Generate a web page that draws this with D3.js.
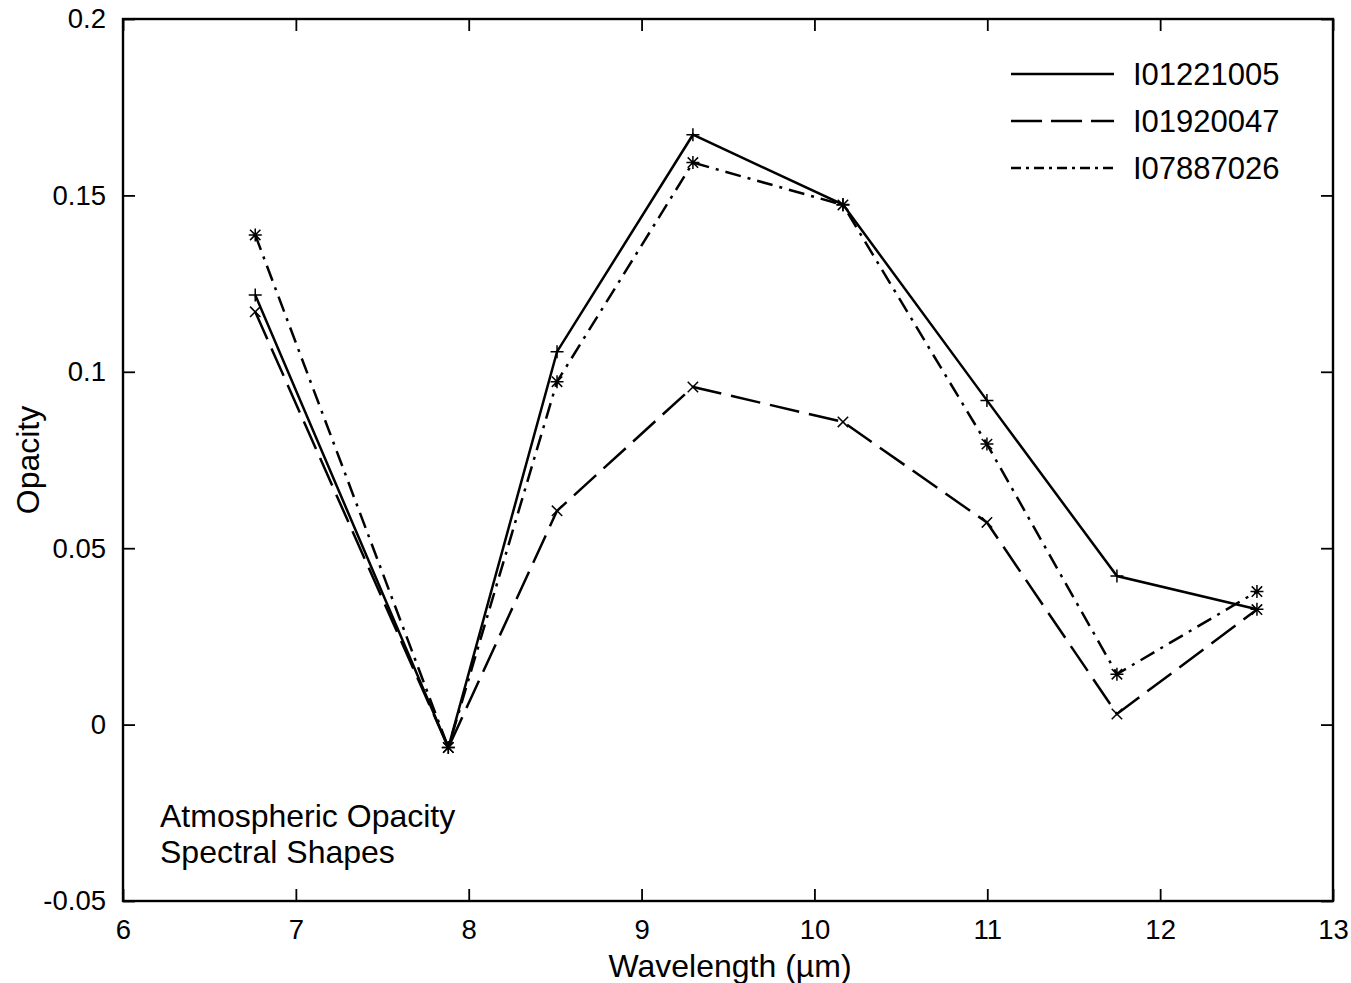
<!DOCTYPE html>
<html>
<head>
<meta charset="utf-8">
<script src="https://cdn.jsdelivr.net/npm/d3@7"></script>
<style>
  html, body { margin: 0; padding: 0; background: #fff; }
  svg text { font-family: "Liberation Sans", Arial, Helvetica, sans-serif; fill: #000; }
</style>
</head>
<body>
<svg id="chart" width="1351" height="983"></svg>
<script>
// Wavelengths of the spectral channels (µm)
const wavelengths = [6.765, 7.882, 8.511, 9.297, 10.165, 10.998, 11.750, 12.560];

// Opacity spectra for each observation
const seriesNames = ["I01221005", "I01920047", "I07887026"];
const opacityI01221005 = [0.1218, -0.0065, 0.1057, 0.1672, 0.1474, 0.0919, 0.0421, 0.0327];
const opacityI01920047 = [0.1170, -0.0065, 0.0606, 0.0957, 0.0858, 0.0573, 0.0030, 0.0326];
const opacityI07887026 = [0.1388, -0.0065, 0.0972, 0.1593, 0.1473, 0.0795, 0.0143, 0.0377];

// Axis ticks
const xTicks = [6, 7, 8, 9, 10, 11, 12, 13];
const yTicks = [-0.05, 0, 0.05, 0.1, 0.15, 0.2];
const yTickLabels = ["-0.05", "0", "0.05", "0.1", "0.15", "0.2"];

const svg = d3.select("#chart");
const plotLeft = 123, plotRight = 1333, plotTop = 19, plotBottom = 901;

const x = d3.scaleLinear().domain([6, 13]).range([plotLeft, plotRight]);
const y = d3.scaleLinear().domain([-0.05, 0.2]).range([plotBottom, plotTop]);

// Axes: inward ticks on all four sides, labels on bottom and left
const tickLen = 12;
function styleAxis(g) {
  g.selectAll(".domain").remove();
  g.selectAll(".tick line").attr("stroke", "#000").attr("stroke-width", 1.8);
  g.selectAll("text").attr("font-size", 27.5).attr("fill", "#000")
    .attr("font-family", "Liberation Sans, Arial, Helvetica, sans-serif");
}
svg.append("g").attr("transform", `translate(0,${plotBottom})`)
  .call(d3.axisBottom(x).tickValues(xTicks).tickFormat(d3.format("d"))
    .tickSizeInner(-tickLen).tickSizeOuter(0).tickPadding(18))
  .call(styleAxis);
svg.append("g").attr("transform", `translate(0,${plotTop})`)
  .call(d3.axisTop(x).tickValues(xTicks).tickFormat("")
    .tickSizeInner(-tickLen).tickSizeOuter(0))
  .call(styleAxis);
svg.append("g").attr("transform", `translate(${plotLeft},0)`)
  .call(d3.axisLeft(y).tickValues(yTicks).tickFormat((d, i) => yTickLabels[i])
    .tickSizeInner(-tickLen).tickSizeOuter(0).tickPadding(17))
  .call(styleAxis);
svg.append("g").attr("transform", `translate(${plotRight},0)`)
  .call(d3.axisRight(y).tickValues(yTicks).tickFormat("")
    .tickSizeInner(-tickLen).tickSizeOuter(0))
  .call(styleAxis);

// Plot frame
svg.append("rect")
  .attr("x", plotLeft).attr("y", plotTop)
  .attr("width", plotRight - plotLeft).attr("height", plotBottom - plotTop)
  .attr("fill", "none").attr("stroke", "#000").attr("stroke-width", 2.4);

// Axis titles
svg.append("text")
  .attr("x", (plotLeft + plotRight) / 2 + 2).attr("y", 977)
  .attr("text-anchor", "middle").attr("font-size", 32)
  .text("Wavelength (\u00B5m)");
svg.append("text")
  .attr("transform", `translate(39,${(plotTop + plotBottom) / 2}) rotate(-90)`)
  .attr("text-anchor", "middle").attr("font-size", 32)
  .text("Opacity");

// Annotation
const note = svg.append("text").attr("font-size", 32);
note.append("tspan").attr("x", 160).attr("y", 827).text("Atmospheric Opacity");
note.append("tspan").attr("x", 160).attr("y", 863).text("Spectral Shapes");

// Series definitions
const series = [
  { name: seriesNames[0], values: opacityI01221005, dash: null, legendDash: null, marker: "plus" },
  { name: seriesNames[1], values: opacityI01920047, dash: "30,10", legendDash: "31,9", marker: "cross" },
  { name: seriesNames[2], values: opacityI07887026, dash: "16,7,3,7", legendDash: "10,5,3,5", marker: "star" }
];

const line = d3.line().x(d => x(d[0])).y(d => y(d[1]));

function markerPath(type, s) {
  const p = d3.path();
  const plus = () => { p.moveTo(-s, 0); p.lineTo(s, 0); p.moveTo(0, -s); p.lineTo(0, s); };
  const cross = () => { const c = s * 0.8; p.moveTo(-c, -c); p.lineTo(c, c); p.moveTo(-c, c); p.lineTo(c, -c); };
  if (type === "plus") plus();
  else if (type === "cross") cross();
  else { plus(); cross(); }
  return p.toString();
}

series.forEach(sr => {
  const pts = wavelengths.map((w, i) => [w, sr.values[i]]);
  svg.append("path")
    .datum(pts)
    .attr("d", line)
    .attr("fill", "none")
    .attr("stroke", "#000")
    .attr("stroke-width", 2.5)
    .attr("stroke-dasharray", sr.dash);
  svg.append("g").selectAll("path")
    .data(pts)
    .join("path")
    .attr("transform", d => `translate(${x(d[0])},${y(d[1])})`)
    .attr("d", markerPath(sr.marker, 6.5))
    .attr("fill", "none")
    .attr("stroke", "#000")
    .attr("stroke-width", 1.5);
});

// Legend
const legendY = [74, 121, 168];
series.forEach((sr, i) => {
  const g = svg.append("g").attr("transform", `translate(0,${legendY[i]})`);
  g.append("line")
    .attr("x1", 1011).attr("x2", 1114).attr("y1", 0).attr("y2", 0)
    .attr("stroke", "#000").attr("stroke-width", 2.5)
    .attr("stroke-dasharray", sr.legendDash);
  g.append("text")
    .attr("x", 1133).attr("y", 0).attr("dy", "0.36em")
    .attr("font-size", 31)
    .text(sr.name);
});
</script>
</body>
</html>
